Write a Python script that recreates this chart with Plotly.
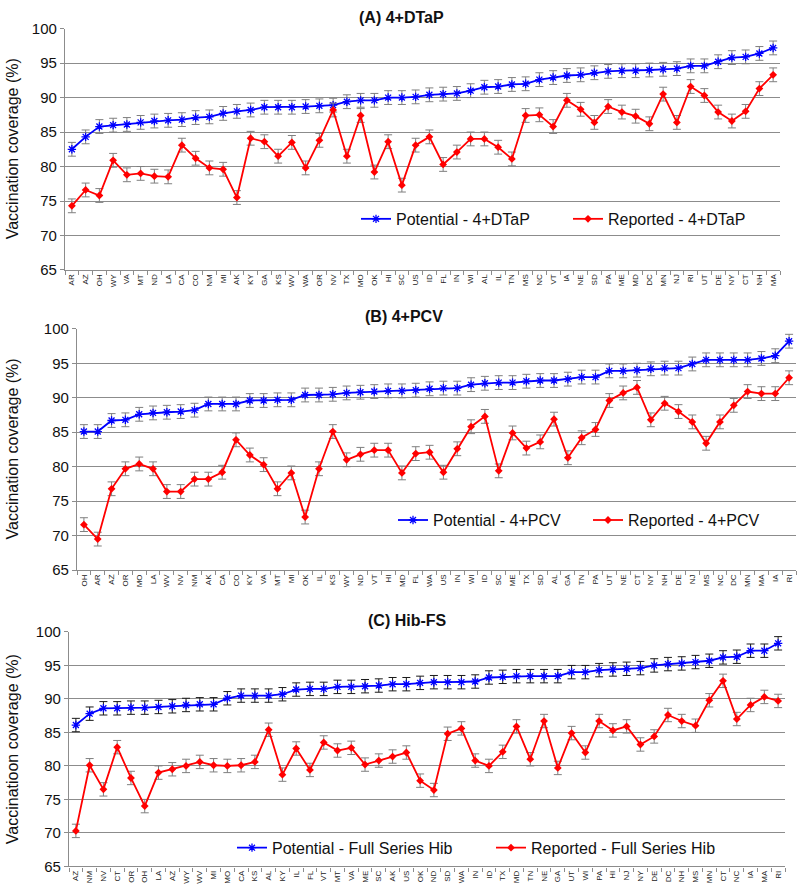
import plotly.graph_objects as go

# ---------------- data ----------------
labels_a = ["AR","AZ","OH","WY","VA","MT","ND","LA","CA","CO","NM","MI","AK","KY","GA","KS","WV","WA","OR","NV",
            "TX","MO","OK","HI","SC","US","ID","FL","IN","WI","AL","IL","TN","MS","NC","VT","IA","NE","SD","PA",
            "ME","MD","DC","MN","NJ","RI","UT","DE","NY","CT","NH","MA"]
pot_a = [82.5,84.3,85.8,86.0,86.1,86.4,86.6,86.7,86.8,87.1,87.2,87.7,88.0,88.2,88.6,88.6,88.6,88.7,88.8,88.9,
         89.4,89.6,89.6,90.0,90.0,90.1,90.4,90.5,90.6,91.0,91.5,91.6,91.9,92.0,92.6,92.9,93.2,93.3,93.6,93.8,
         93.9,93.9,94.0,94.1,94.2,94.6,94.6,95.2,95.8,95.9,96.4,97.2]
rep_a = [74.3,76.6,75.8,80.9,78.8,79.0,78.6,78.5,83.1,81.2,79.8,79.6,75.5,84.1,83.6,81.5,83.5,79.8,83.8,88.2,
         81.5,87.4,79.2,83.6,77.3,83.1,84.3,80.3,82.1,84.0,84.0,82.8,81.1,87.4,87.5,85.8,89.6,88.3,86.4,88.7,
         87.9,87.3,86.2,90.5,86.4,91.6,90.3,87.9,86.6,88.0,91.3,93.3]

labels_b = ["OH","AR","AZ","OR","MO","LA","WV","NV","NM","AK","CA","CO","KY","VA","MT","MI","OK","IL","KS","WY",
            "ND","VT","HI","MD","FL","WA","US","IN","WI","ID","SC","ME","TX","SD","AL","GA","TN","PA","UT","NE",
            "CT","NY","NH","DE","NJ","MS","NC","DC","MN","MA","IA","RI"]
pot_b = [85.1,85.1,86.7,86.8,87.6,87.8,87.9,88.0,88.2,89.1,89.1,89.1,89.6,89.6,89.7,89.7,90.4,90.4,90.5,90.7,
         90.8,90.9,91.0,91.0,91.1,91.3,91.4,91.4,91.9,92.1,92.2,92.2,92.4,92.5,92.5,92.7,93.0,93.0,93.9,93.9,
         94.0,94.2,94.3,94.3,94.9,95.5,95.5,95.5,95.5,95.7,96.1,98.2]
rep_b = [71.6,69.5,76.8,79.7,80.4,79.7,76.4,76.4,78.2,78.2,79.2,83.9,81.7,80.3,76.8,79.1,72.7,79.7,85.1,81.0,
         81.8,82.4,82.4,79.1,81.9,82.1,79.2,82.6,85.8,87.3,79.4,84.9,82.7,83.6,86.9,81.3,84.2,85.4,89.6,90.7,
         91.5,86.8,89.2,88.0,86.5,83.4,86.5,88.9,90.9,90.6,90.6,92.9]

labels_c = ["AZ","NM","NV","CT","OR","OH","LA","AZ","WY","WV","MI","MO","CA","KS","AL","KY","IL","FL","VT","MT",
            "VA","ME","SC","AK","US","OK","ND","SD","WA","IN","ID","TX","MD","TN","NE","GA","UT","WI","PA","HI",
            "NJ","NY","DE","DC","NH","MS","MN","CT","NC","IA","MA","RI"]
pot_c = [86.1,87.8,88.6,88.6,88.7,88.7,88.8,88.9,89.1,89.2,89.2,90.1,90.5,90.5,90.5,90.7,91.4,91.5,91.5,91.8,
         91.8,91.9,92.0,92.2,92.2,92.4,92.5,92.5,92.5,92.6,93.2,93.3,93.4,93.4,93.4,93.4,94.0,94.0,94.3,94.4,
         94.5,94.6,95.0,95.2,95.3,95.5,95.7,96.2,96.3,97.2,97.2,98.3]
rep_c = [70.3,80.1,76.5,82.8,78.2,74.0,79.0,79.5,80.0,80.6,80.1,80.0,80.1,80.6,85.4,78.7,82.6,79.4,83.5,82.3,
         82.7,80.2,80.8,81.4,82.0,77.8,76.4,84.8,85.6,80.8,80.0,82.1,85.9,81.0,86.7,79.7,84.9,82.0,86.7,85.3,
         85.9,83.2,84.4,87.6,86.7,86.0,89.8,92.7,87.0,89.1,90.3,89.7]

err_a = 1.0
err_b = 1.0
err_c = 1.0

names_a = ["Potential - 4+DTaP", "Reported - 4+DTaP"]
names_b = ["Potential - 4+PCV", "Reported - 4+PCV"]
names_c = ["Potential - Full Series Hib", "Reported - Full Series Hib"]
titles = ["(A) 4+DTaP", "(B) 4+PCV", "(C) Hib-FS"]
ytitles = ["Vaccination coverage (%)", "Vaccination coverage (%)", "Vaccinatioon coverage (%)"]

# ---------------- layout helpers ----------------
W, H = 800, 895
FONT = "Liberation Sans, Arial, sans-serif"
GRID = "#8c8c8c"
BLUE = "#0000ff"
RED = "#ff0000"
EB = "#7f7f7f"

def fx(p): return p / W
def fy(p): return 1 - p / H

panels = [
    dict(lab=labels_a, pot=pot_a, rep=rep_a, err=err_a, names=names_a, x0=65, x1=780, ytop=20, ybot=266,
         title_y=9, title_x=401, leg_x=356, leg_y=214, eb_pot=EB, ew=167),
    dict(lab=labels_b, pot=pot_b, rep=rep_b, err=err_b, names=names_b, x0=77, x1=796, ytop=326, ybot=572,
         title_y=313, title_x=404, leg_x=393, leg_y=521, eb_pot=EB, ew=150),
    dict(lab=labels_c, pot=pot_c, rep=rep_c, err=err_c, names=names_c, x0=69, x1=785, ytop=635, ybot=874,
         title_y=623, title_x=407, leg_x=232, leg_y=855, eb_pot="#1a1a1a", ew=214),
]

fig = go.Figure()
annotations = []
layout = {}

for k, p in enumerate(panels):
    sfx = "" if k == 0 else str(k + 1)
    leg = "legend" + sfx
    xs = list(range(len(p["lab"])))
    fig.add_trace(go.Scatter(
        x=xs, y=p["pot"], name=p["names"][0], mode="lines+markers",
        xaxis="x" + sfx, yaxis="y" + sfx, legend=leg,
        line=dict(color=BLUE, width=1.8),
        marker=dict(symbol="asterisk-open", size=7, color=BLUE, line=dict(color=BLUE, width=1.3)),
        error_y=dict(type="constant", value=p["err"], color=p["eb_pot"], thickness=1, width=4),
    ))
    fig.add_trace(go.Scatter(
        x=xs, y=p["rep"], name=p["names"][1], mode="lines+markers",
        xaxis="x" + sfx, yaxis="y" + sfx, legend=leg,
        line=dict(color=RED, width=1.8),
        marker=dict(symbol="diamond", size=6, color=RED),
        error_y=dict(type="constant", value=p["err"], color=EB, thickness=1, width=4),
    ))
    layout["xaxis" + sfx] = dict(
        domain=[fx(p["x0"]), fx(p["x1"])], anchor="y" + sfx,
        range=[-0.5, len(xs) - 0.5], tickmode="array", tickvals=xs, ticktext=p["lab"],
        tickangle=-90, tickfont=dict(size=8, color="#222222", family=FONT),
        ticks="", showline=True, linecolor=GRID, linewidth=1.3, showgrid=False, zeroline=False,
        minor=dict(tickmode="linear", tick0=0.5, dtick=1, ticks="outside", ticklen=4,
                   tickcolor=GRID, tickwidth=1, showgrid=False),
    )
    layout["yaxis" + sfx] = dict(
        domain=[fy(p["ybot"]), fy(p["ytop"])], anchor="x" + sfx,
        range=[65, 100], dtick=5, tick0=65, showgrid=True, gridcolor=GRID, gridwidth=1.3,
        showline=True, linecolor=GRID, linewidth=1.3, ticks="outside", ticklen=4, tickcolor=GRID,
        tickfont=dict(size=15, color="#111111", family=FONT), zeroline=False,
    )
    layout[leg] = dict(
        orientation="h", x=fx(p["leg_x"]), xanchor="left", y=fy(p["leg_y"]), yanchor="middle",
        font=dict(size=16, color="#111111", family=FONT), bgcolor="rgba(0,0,0,0)",
        itemwidth=30, tracegroupgap=0, entrywidth=p["ew"], entrywidthmode="pixels",
    )
    annotations.append(dict(
        text="<b>" + titles[k] + "</b>", x=fx(p["title_x"]), y=fy(p["title_y"]),
        xref="paper", yref="paper", xanchor="center", yanchor="middle", showarrow=False,
        font=dict(size=16, color="#111111", family=FONT),
    ))
    annotations.append(dict(
        text=ytitles[k], x=fx(12), y=fy((p["ytop"] + p["ybot"]) / 2),
        xref="paper", yref="paper", xanchor="center", yanchor="middle", showarrow=False,
        textangle=-90, font=dict(size=16, color="#111111", family=FONT),
    ))

fig.update_layout(
    width=W, height=H, margin=dict(l=0, r=0, t=0, b=0),
    paper_bgcolor="white", plot_bgcolor="white",
    font=dict(family=FONT), annotations=annotations, **layout,
)

fig.write_html("out.html", config={"displayModeBar": False},
               post_script="document.body.style.margin='0px';document.body.style.overflow='hidden';")
